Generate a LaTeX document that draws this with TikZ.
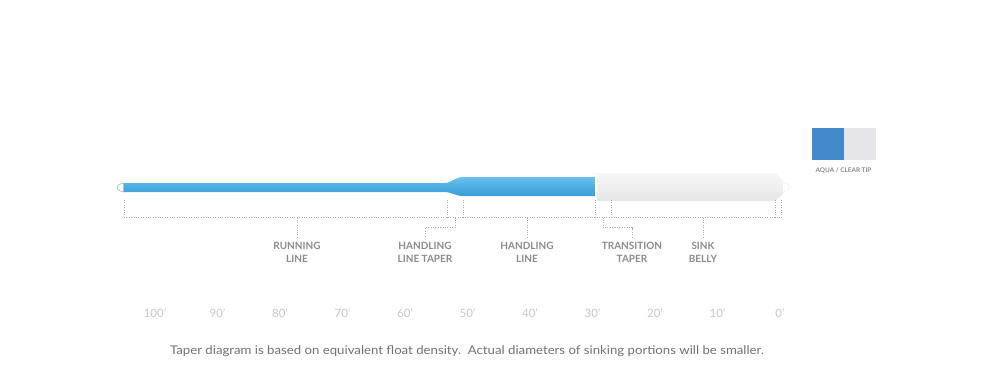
\documentclass[tikz,border=0pt]{standalone}
\usepackage{fontspec}
\setmainfont{Lato}
\usetikzlibrary{calc}
\definecolor{lineblue}{HTML}{4DAEE2}
\definecolor{linebluetop}{HTML}{6DC0EC}
\definecolor{lineblueb}{HTML}{3C9DD5}
\definecolor{bellytop}{HTML}{F6F6F7}
\definecolor{bellybot}{HTML}{E5E5E7}
\definecolor{dotgray}{HTML}{A8A8A8}
\definecolor{labgray}{HTML}{8A8A8A}
\definecolor{scalegray}{HTML}{C6C6C6}
\definecolor{capgray}{HTML}{707070}
\definecolor{aqua}{HTML}{4289CB}
\definecolor{clear}{HTML}{E6E6E8}
\tikzset{
  guide/.style={draw=dotgray, line width=0.8pt, dash pattern=on 0.8pt off 1.6pt},
  seglabel/.style={font=\fontsize{10}{13}\selectfont\bfseries, text=labgray, align=center, inner sep=0pt, anchor=north},
  scalelabel/.style={font=\fontsize{11.5}{13}\selectfont, text=scalegray, inner sep=0pt},
}
\begin{document}
\begin{tikzpicture}[x=1pt,y=-1pt]
\useasboundingbox (0,0) rectangle (1000,375);

% running line + handling taper + handling line
\shade[top color=linebluetop, bottom color=lineblueb, middle color=lineblue]
  (123,183) -- (444,183) .. controls (452,183) and (455,177) .. (463,177)
  -- (595,177) -- (595,196) -- (463,196) .. controls (455,196) and (452,192) .. (444,192)
  -- (123,192) -- cycle;
% clear loop tip at the left
\filldraw[fill=white, draw=lineblue!60!gray!60, line width=0.7pt]
  (123.5,183.3) .. controls (118,183.3) and (117,187.5) .. (117.5,187.5)
  .. controls (117,187.5) and (118,191.7) .. (123.5,191.7) -- cycle;

% sink belly (clear)
\shade[top color=bellytop, bottom color=bellybot, middle color=bellytop!60!bellybot]
  (595,173) -- (775,173) -- (783,180) -- (783,194) -- (775,201) -- (595,201) -- cycle;
\draw[white, line width=1.2pt] (596,173.5) -- (596,200.5);
% clear tip at the right
\filldraw[fill=white, draw=bellybot!70, line width=0.6pt]
  (783,182.5) -- (788,183.5) -- (789,187) -- (788,190.5) -- (783,191.5);

% bracket coordinates
\coordinate (atop) at (124,200);  \coordinate (abot) at (124,217.5);
\coordinate (btop) at (447,200);  \coordinate (bbot) at (447,217.5);
\coordinate (ctop) at (463,200);  \coordinate (cbot) at (463,217.5);
\coordinate (dtop) at (595,200);  \coordinate (dbot) at (595,217.5);
\coordinate (etop) at (611,200);  \coordinate (ebot) at (611,217.5);
\coordinate (ftop) at (775,200);  \coordinate (fbot) at (775,217.5);
\coordinate (gtop) at (781,200);  \coordinate (gbot) at (781,217.5);
\draw[guide] (atop) -- (abot);
\draw[guide] (btop) -- (bbot);
\draw[guide] (ctop) -- (cbot);
\draw[guide] (dtop) -- (dbot);
\draw[guide] (etop) -- (ebot);
\draw[guide] (ftop) -- (fbot);
\draw[guide] (gtop) -- (gbot);
\draw[guide] (abot) -- (gbot);

% ticks to labels
\coordinate (runmid) at (297,217.5);
\coordinate (runend) at (297,237);
\draw[guide] (runmid) -- (runend);

\coordinate (hltmid) at (455,217.5);
\coordinate (hltk1) at (455,227.5);
\coordinate (hltk2) at (425,227.5);
\coordinate (hltend) at (425,237);
\draw[guide] (hltmid) -- (hltk1) -- (hltk2) -- (hltend);

\coordinate (hlmid) at (527,217.5);
\coordinate (hlend) at (527,237);
\draw[guide] (hlmid) -- (hlend);

\coordinate (ttmid) at (603,217.5);
\coordinate (ttk1) at (603,227.5);
\coordinate (ttk2) at (632,227.5);
\coordinate (ttend) at (632,237);
\draw[guide] (ttmid) -- (ttk1) -- (ttk2) -- (ttend);

\coordinate (sbmid) at (703,217.5);
\coordinate (sbend) at (703,237);
\draw[guide] (sbmid) -- (sbend);

% labels
\node[seglabel] (runlab) at (297,241.5) {RUNNING\\LINE};
\node[seglabel] (hltlab) at (425,241.5) {HANDLING\\LINE TAPER};
\node[seglabel] (hllab) at (527,241.5) {HANDLING\\LINE};
\node[seglabel] (ttlab) at (632,241.5) {TRANSITION\\TAPER};
\node[seglabel] (sblab) at (703,241.5) {SINK\\BELLY};

% scale
\foreach \v [count=\i from 0] in {100,90,80,70,60,50,40,30,20,10,0}{
  \node[scalelabel] at ({155+62.5*\i},313.5) {\v’};
}

% caption
\node[font=\fontsize{12}{13}\selectfont, text=capgray, inner sep=0pt] (caption) at (467,351)
  {\scalebox{1.1}[1]{Taper diagram is based on equivalent float density.\ \ Actual diameters of sinking portions will be smaller.}};

% legend
\fill[aqua] (812,128) rectangle (844,160);
\fill[clear] (844,128) rectangle (876,160);
\node[font=\fontsize{6.4}{7}\selectfont\bfseries, text=labgray, inner sep=0pt] (legend) at (843.5,170.5) {AQUA / CLEAR TIP};
\end{tikzpicture}
\end{document}
